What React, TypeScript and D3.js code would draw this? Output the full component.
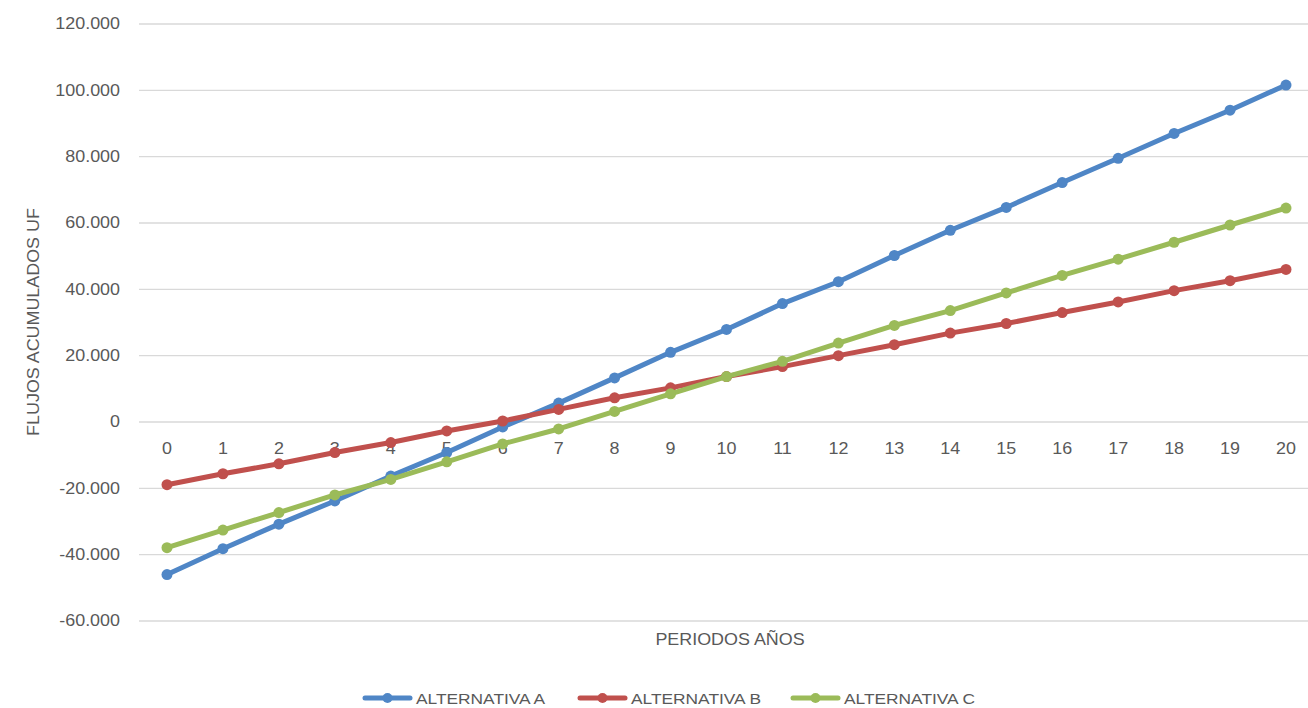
import React from "react";
import * as d3 from "d3";

const periods = d3.range(0, 21);
const altA = [-46000, -38200, -30800, -23800, -16300, -9200, -1500, 5700, 13300, 21000, 27900, 35700, 42300, 50200, 57800, 64700, 72200, 79500, 87000, 94000, 101600];
const altB = [-18900, -15600, -12600, -9200, -6200, -2700, 300, 3800, 7300, 10300, 13700, 16700, 20000, 23300, 26800, 29700, 33000, 36200, 39600, 42600, 46000];
const altC = [-37900, -32600, -27300, -22000, -17300, -12000, -6600, -2100, 3200, 8500, 13700, 18300, 23800, 29100, 33600, 38900, 44200, 49100, 54200, 59400, 64500];
const yTicks = [-60000, -40000, -20000, 0, 20000, 40000, 60000, 80000, 100000, 120000];

const series = [
  { name: "ALTERNATIVA A", values: altA, color: "#4F86C6" },
  { name: "ALTERNATIVA B", values: altB, color: "#C0504D" },
  { name: "ALTERNATIVA C", values: altC, color: "#9BBB59" },
];

const W = 1308;
const H = 708;
const FONT = "'Liberation Sans', Arial, sans-serif";
const TXT = "#595959";
const SX = 1.12;

const fmt = (v: number) => {
  if (v === 0) return "0";
  const s = Math.abs(v).toString().replace(/\B(?=(\d{3})+(?!\d))/g, ".");
  return (v < 0 ? "-" : "") + s;
};

function T({ x, y, rot = 0, anchor = "middle", size = 16, children }: any) {
  return (
    <g transform={`translate(${x},${y}) rotate(${rot}) scale(${SX},1)`}>
      <text textAnchor={anchor} dominantBaseline="central" fontFamily={FONT} fontSize={size} fill={TXT}>
        {children}
      </text>
    </g>
  );
}

export default function App() {
  const x = d3.scalePoint<number>().domain(periods).range([167, 1286]);
  const y = d3.scaleLinear().domain([-60000, 120000]).range([621, 24]);
  const line = d3
    .line<number>()
    .x((_, i) => x(periods[i]) as number)
    .y((d) => y(d));

  const legendX = [365, 580, 793];

  return (
    <svg width={W} height={H} style={{ position: "absolute", left: 0, top: 0, background: "#fff" }}>
      <rect width={W} height={H} fill="#fff" />
      {yTicks.map((t) => (
        <g key={t}>
          <line x1={139} x2={W} y1={y(t)} y2={y(t)} stroke="#d9d9d9" strokeWidth={1.3} />
          <T x={120} y={y(t)} anchor="end">{fmt(t)}</T>
        </g>
      ))}
      {periods.map((p) => (
        <T key={p} x={x(p)} y={449}>{p}</T>
      ))}
      <T x={34} y={322} rot={-90}>FLUJOS ACUMULADOS UF</T>
      <T x={730} y={640}>PERIODOS AÑOS</T>
      {series.map((s) => (
        <g key={s.name}>
          <path d={line(s.values) || ""} fill="none" stroke={s.color} strokeWidth={5} strokeLinejoin="round" />
          {s.values.map((v, i) => (
            <circle key={i} cx={x(periods[i])} cy={y(v)} r={5.5} fill={s.color} />
          ))}
        </g>
      ))}
      {series.map((s, i) => (
        <g key={s.name}>
          <line x1={legendX[i]} x2={legendX[i] + 45} y1={698} y2={698} stroke={s.color} strokeWidth={5} strokeLinecap="round" />
          <circle cx={legendX[i] + 22.5} cy={698} r={5} fill={s.color} />
          <T x={legendX[i] + 51} y={698} anchor="start" size={15.5}>{s.name}</T>
        </g>
      ))}
    </svg>
  );
}
